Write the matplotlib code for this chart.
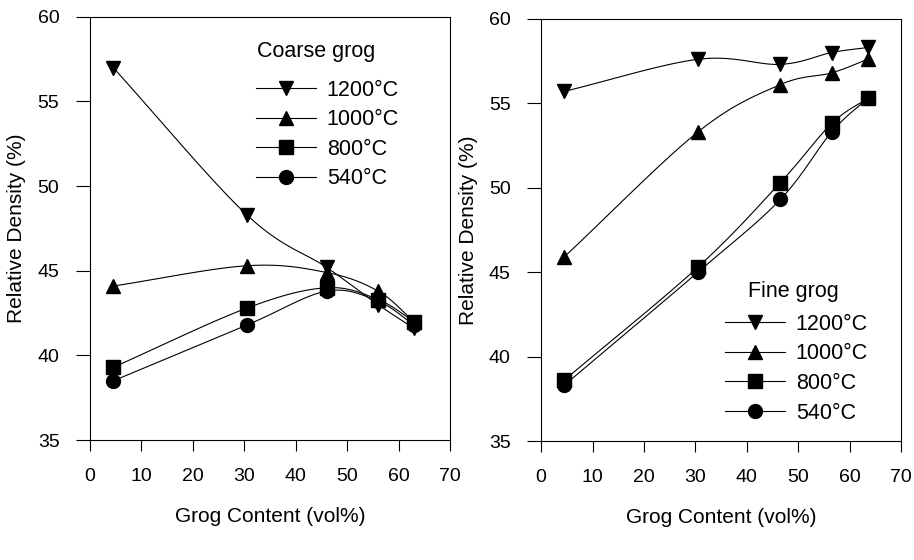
import numpy as np
import matplotlib
matplotlib.use("Agg")
import matplotlib.pyplot as plt

plt.rcParams['font.family'] = ['Liberation Sans', 'DejaVu Sans']

temps = ["1200\u00b0C", "1000\u00b0C", "800\u00b0C", "540\u00b0C"]
markers = ["v", "^", "s", "o"]

coarse_x = [4.5, 30.5, 46.0, 56.0, 63.0]
coarse_1200 = [57.0, 48.3, 45.2, 43.0, 41.6]
coarse_1000 = [44.1, 45.3, 44.9, 43.8, 42.0]
coarse_800 = [39.3, 42.8, 44.0, 43.3, 42.0]
coarse_540 = [38.5, 41.8, 43.8, 43.2, 41.8]

fine_x = [4.5, 30.5, 46.5, 56.5, 63.5]
fine_1200 = [55.7, 57.6, 57.3, 58.0, 58.3]
fine_1000 = [45.9, 53.3, 56.1, 56.8, 57.6]
fine_800 = [38.6, 45.3, 50.3, 53.8, 55.3]
fine_540 = [38.3, 45.0, 49.3, 53.3, 55.3]


def smooth(x, y, n=30):
    # catmull-rom through the measured points, just for the drawn curve
    x = np.asarray(x, float)
    y = np.asarray(y, float)
    px = np.concatenate([[2 * x[0] - x[1]], x, [2 * x[-1] - x[-2]]])
    py = np.concatenate([[2 * y[0] - y[1]], y, [2 * y[-1] - y[-2]]])
    xs, ys = [], []
    t = np.linspace(0, 1, n)
    for i in range(1, len(px) - 2):
        for p, out in ((px, xs), (py, ys)):
            p0, p1, p2, p3 = p[i - 1], p[i], p[i + 1], p[i + 2]
            out.extend(0.5 * (2 * p1 + (-p0 + p2) * t
                              + (2 * p0 - 5 * p1 + 4 * p2 - p3) * t ** 2
                              + (-p0 + 3 * p1 - 3 * p2 + p3) * t ** 3))
    return np.array(xs), np.array(ys)


def panel(ax, x, series, title, title_pos, legend_anchor):
    for y, m, lab in zip(series, markers, temps):
        sx, sy = smooth(x, y)
        ax.plot(sx, sy, color='black', lw=0.8)
        ax.plot(x, y, linestyle='none', marker=m, color='black', markersize=10)
        ax.plot([], [], color='black', lw=0.8, marker=m, markersize=10, label=lab)
    ax.set_xlim(0, 70)
    ax.set_ylim(35, 60)
    ax.set_xticks(range(0, 71, 10))
    ax.set_yticks(range(35, 61, 5))
    ax.tick_params(direction='out', length=8, width=0.8, labelsize=14, pad=12)
    ax.tick_params(axis='y', length=10, pad=12)
    for s in ax.spines.values():
        s.set_linewidth(0.8)
    ax.set_xlabel("Grog Content (vol%)", fontsize=15, labelpad=16)
    ax.set_ylabel("Relative Density (%)", fontsize=15, labelpad=8)
    ax.text(title_pos[0], title_pos[1], title, transform=ax.transAxes,
            fontsize=15.5, ha='left', va='center')
    ax.legend(loc='upper left', bbox_to_anchor=legend_anchor,
              frameon=False, fontsize=15.5,
              handlelength=2.8, handletextpad=0.5, labelspacing=0.4,
              borderpad=0)


fig = plt.figure(figsize=(9.14, 5.6), dpi=100)
ax1 = fig.add_axes([0.0985, 0.214, 0.394, 0.756])
ax2 = fig.add_axes([0.592, 0.2125, 0.394, 0.754])

panel(ax1, coarse_x, [coarse_1200, coarse_1000, coarse_800, coarse_540],
      "Coarse grog", (0.464, 0.918), (0.43, 0.877))
panel(ax2, fine_x, [fine_1200, fine_1000, fine_800, fine_540],
      "Fine grog", (0.575, 0.355), (0.48, 0.327))

fig.savefig("out.png", dpi=100)
